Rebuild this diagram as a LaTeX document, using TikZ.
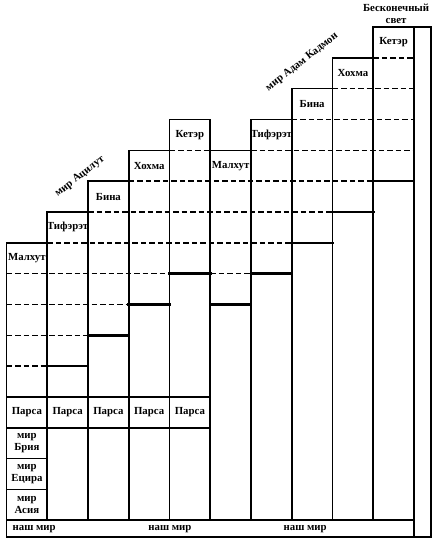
\documentclass[tikz,border=0pt]{standalone}
\usepackage{fontspec}
\setmainfont{Liberation Serif}
\begin{document}
\begin{tikzpicture}[x=40.75pt, y=-30.83pt, line width=1.6pt, line cap=rect,
    sep/.style={line cap=butt, dash pattern=on 5.5pt off 3pt},
    edge/.style={line width=2.6pt},
    lbl/.style={font=\bfseries\fontsize{10.8}{11.8}\selectfont, inner sep=0pt, align=center}]
  \useasboundingbox (-0.16,-0.876) rectangle (10.564,16.672);
  % outline and columns
  \draw (0,16.54) -- (0,7) -- (1,7) -- (1,6) -- (2,6) -- (2,5) -- (3,5)
    -- (3,4) -- (4,4) -- (4,3) -- (5,3) -- (5,16);
  \draw (5,4) -- (6,4) -- (6,3) -- (7,3) -- (7,2) -- (8,2) -- (8,1)
    -- (9,1) -- (9,0) -- (10.42,0) -- (10.42,16.54) -- (0,16.54);
  \draw (1,7) -- (1,16);
  \draw (2,6) -- (2,16);
  \draw (3,5) -- (3,16);
  \draw (4,4) -- (4,16);
  \draw (6,4) -- (6,16);
  \draw (7,3) -- (7,16);
  \draw (8,2) -- (8,16);
  \draw (9,1) -- (9,16);
  \draw (10,0) -- (10,16.54);
  \draw (0,12) -- (5,12);
  \draw (0,13) -- (5,13);
  \draw (0,14) -- (1,14);
  \draw (0,15) -- (1,15);
  \draw (0,16) -- (10,16);
  \begin{scope}[sep]
    \draw (9,1) -- (10,1);
    \draw (8,2) -- (10,2);
    \draw (7,3) -- (10,3);
    \draw (4,4) -- (5,4);
    \draw (6,4) -- (10,4);
    \draw (3,5) -- (9,5);
    \draw (2,6) -- (8,6);
    \draw (1,7) -- (7,7);
    \draw (0,8) -- (4,8);
    \draw (5,8) -- (6,8);
    \draw (0,9) -- (3,9);
    \draw (0,10) -- (2,10);
    \draw (0,11) -- (1,11);
  \end{scope}
  \begin{scope}[edge]
    \draw (9,5) -- (10,5);
    \draw (8,6) -- (9,6);
    \draw (7,7) -- (8,7);
    \draw (4,8) -- (5,8);
    \draw (6,8) -- (7,8);
    \draw (3,9) -- (4,9);
    \draw (5,9) -- (6,9);
    \draw (2,10) -- (3,10);
    \draw (1,11) -- (2,11);
  \end{scope}
  % labels
  \path[lbl]
    (0.5,7.5) node (malA) {Малхут}
    (1.5,6.5) node (tifA) {Тифэрэт}
    (2.5,5.5) node (binA) {Бина}
    (3.5,4.5) node (hohA) {Хохма}
    (4.5,3.5) node (ketA) {Кетэр}
    (5.5,4.5) node (malK) {Малхут}
    (6.5,3.5) node (tifK) {Тифэрэт}
    (7.5,2.5) node (binK) {Бина}
    (8.5,1.5) node (hohK) {Хохма}
    (9.5,0.5) node (ketK) {Кетэр}
    (0.5,12.5) node (p1) {Парса}
    (1.5,12.5) node (p2) {Парса}
    (2.5,12.5) node (p3) {Парса}
    (3.5,12.5) node (p4) {Парса}
    (4.5,12.5) node (p5) {Парса}
    (0.5,13.5) node (bria) {мир\\Брия}
    (0.5,14.5) node (yecira) {мир\\Ецира}
    (0.5,15.5) node (asia) {мир\\Асия}
    (0.68,16.27) node (nash1) {наш мир}
    (4.01,16.27) node (nash2) {наш мир}
    (7.33,16.27) node (nash3) {наш мир}
    (9.56,-0.44) node (inf) {Бесконечный\\свет}
    (1.80,4.85) node[rotate=38] (atz) {мир Ацилут}
    (7.25,1.14) node[rotate=38] (adam) {мир Адам Кадмон};
\end{tikzpicture}
\end{document}
